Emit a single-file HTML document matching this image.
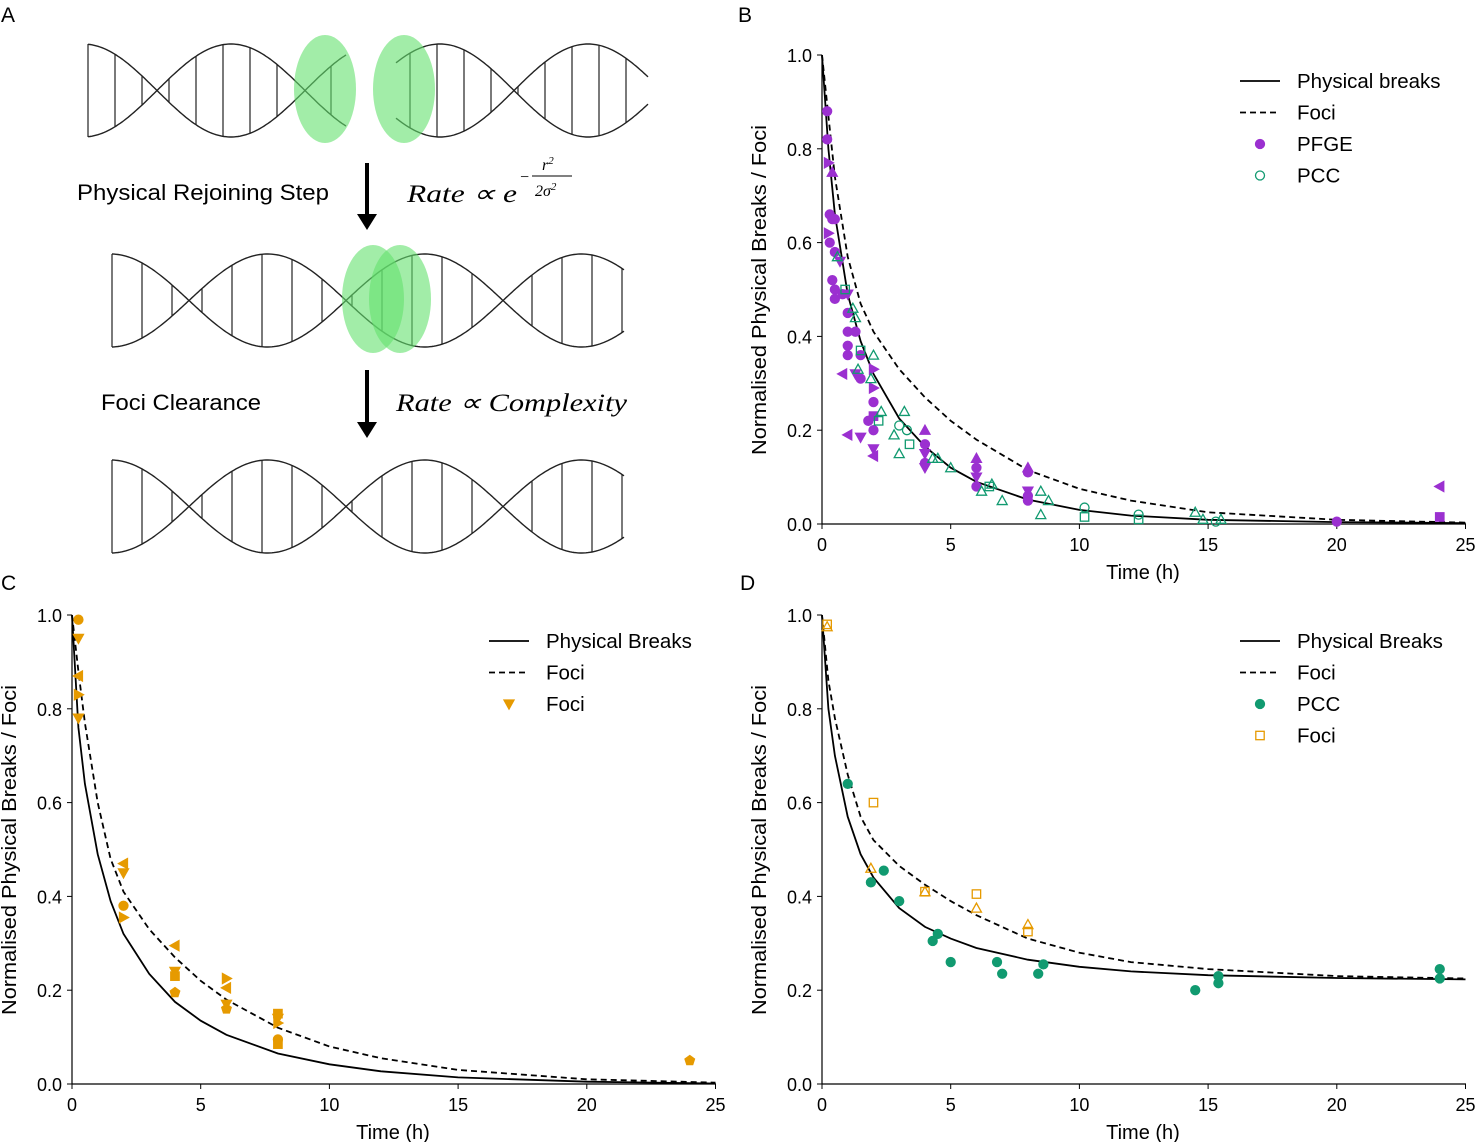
<!DOCTYPE html>
<html><head><meta charset="utf-8"><style>
body{margin:0;background:#fff}
svg{display:block;font-family:"Liberation Sans","DejaVu Sans",sans-serif}
</style></head><body>
<svg id="fig" width="1477" height="1142" viewBox="0 0 1477 1142">
<g id="panelA"></g>
<text x="1" y="22" font-size="21">A</text>
<text x="738" y="22" font-size="21">B</text>
<text x="1" y="590" font-size="21">C</text>
<text x="740" y="590" font-size="21">D</text>
<text x="77" y="200" font-size="22" textLength="252" lengthAdjust="spacingAndGlyphs">Physical Rejoining Step</text>
<text x="101" y="410" font-size="22" textLength="160" lengthAdjust="spacingAndGlyphs">Foci Clearance</text>
<g font-family="'Liberation Serif',serif" font-style="italic" font-size="25">
<text x="407" y="202" textLength="110" lengthAdjust="spacingAndGlyphs">Rate ∝ e</text>
<text x="519" y="182" font-size="16">−</text>
<text x="542" y="170" font-size="16">r<tspan font-size="11" dy="-6">2</tspan></text>
<line x1="532" y1="176" x2="572" y2="176" stroke="#000" stroke-width="1"/>
<text x="535" y="196" font-size="16">2σ<tspan font-size="11" dy="-6">2</tspan></text>
</g>
<text x="396" y="411" font-family="'Liberation Serif',serif" font-style="italic" font-size="25" textLength="231" lengthAdjust="spacingAndGlyphs">Rate ∝ Complexity</text>
<g id="charts"></g>
</svg>
<script>
const NS="http://www.w3.org/2000/svg";
function mk(tag,attrs,parent){const e=document.createElementNS(NS,tag);for(const k in attrs)e.setAttribute(k,attrs[k]);parent.appendChild(e);return e;}
const A=document.getElementById('panelA');
function helix(x0,x1,yTop,yBot,cross,half,rungStart,rungStep,name){
  const g=mk('g',{},A);
  
  
  const c=(yTop+yBot)/2,amp=(yBot-yTop)/2;
  let p1='',p2='';
  for(let x=x0;x<=x1;x+=2){const v=Math.sin(Math.PI*(x-cross)/half);
    p1+=(p1?'L':'M')+x+','+(c+amp*v).toFixed(1);p2+=(p2?'L':'M')+x+','+(c-amp*v).toFixed(1);}
  mk('path',{d:p1,fill:'none',stroke:'#222','stroke-width':1.4},g);
  mk('path',{d:p2,fill:'none',stroke:'#222','stroke-width':1.4},g);
  for(let x=rungStart;x<=x1;x+=rungStep){const v=Math.sin(Math.PI*(x-cross)/half);
    if(Math.abs(v)<0.08)continue;mk('line',{x1:x,x2:x,y1:c-amp*v,y2:c+amp*v,stroke:'#222','stroke-width':1.2},g);}
}
helix(88,347,44,137,157,148,115,27,'dna-top-left');
helix(396,648,44,137,514,148,410,27,'dna-top-right');
helix(112,625,254,347,189,157,142,30,'dna-middle');
helix(112,625,460,553,189,157,142,30,'dna-bottom');
[[88,44,137],[112,254,347],[112,460,553]].forEach(a=>mk('line',{x1:a[0],x2:a[0],y1:a[1],y2:a[2],stroke:'#222','stroke-width':1.2},A));
function ell(cx,cy,n){const e=mk('ellipse',{cx:cx,cy:cy,rx:31,ry:54,fill:'rgba(100,225,110,0.6)'},A);
}
ell(325,89,'break-focus-left');ell(404,89,'break-focus-right');ell(373,299,'focus-joined-1');ell(400,299,'focus-joined-2');
function arrow(x,y0,y1,n){const g=mk('g',{},A);
mk('line',{x1:x,x2:x,y1:y0,y2:y1-14,stroke:'#000','stroke-width':4},g);
mk('polygon',{points:`${x-10},${y1-16} ${x+10},${y1-16} ${x},${y1}`,fill:'#000'},g);}
arrow(367,163,230,'arrow-rejoining');arrow(367,370,438,'arrow-clearance');

const curveT=[0,0.25,0.5,1,1.5,2,3,4,5,6,8,10,12,15,20,25];
const bSolid=[1,0.8,0.66,0.49,0.39,0.32,0.225,0.165,0.12,0.09,0.052,0.03,0.018,0.009,0.004,0.002];
const bDash=[1,0.87,0.74,0.57,0.47,0.41,0.33,0.27,0.22,0.18,0.115,0.075,0.05,0.025,0.009,0.003];
const cSolid=[1,0.76,0.64,0.49,0.39,0.32,0.235,0.175,0.135,0.105,0.065,0.042,0.027,0.014,0.005,0.001];
const cDash=[1,0.88,0.77,0.6,0.48,0.41,0.33,0.27,0.22,0.18,0.12,0.08,0.055,0.03,0.01,0.003];
const dSolid=[1,0.8,0.7,0.57,0.49,0.44,0.375,0.335,0.31,0.29,0.265,0.25,0.24,0.232,0.226,0.223];
const dDash=[1,0.86,0.78,0.66,0.57,0.52,0.465,0.425,0.39,0.36,0.31,0.28,0.26,0.245,0.23,0.225];
const bPfgeT=[0.2,0.2,0.25,0.4,0.3,0.4,0.5,0.25,0.3,0.5,0.7,0.4,0.5,0.5,0.8,1,1,1,1.3,1,1,1.5,0.8,1.3,1.5,2,2,2,2,1.8,1,1.5,2,2,2,4,4,4,4,4,6,6,6,6,8,8,8,8,8,20,24,24];
const bPfgeV=[0.88,0.82,0.77,0.75,0.66,0.65,0.65,0.62,0.6,0.58,0.56,0.52,0.5,0.48,0.49,0.49,0.45,0.41,0.41,0.38,0.36,0.36,0.32,0.32,0.31,0.33,0.29,0.26,0.23,0.22,0.19,0.185,0.2,0.16,0.145,0.2,0.17,0.15,0.13,0.12,0.14,0.12,0.1,0.08,0.12,0.11,0.07,0.06,0.05,0.005,0.08,0.015];
const bPfgeM=['o','o','>','^','o','o','o','>','o','o','v','o','o','o','o','v','o','o','o','o','o','o','<','v','o','>','>','o','s','o','<','v','o','v','<','^','o','v','o','v','^','o','v','o','^','o','v','o','o','o','<','s'];
const bPccT=[0.6,0.9,1.2,1.3,1.5,1.4,2,1.9,2.2,2.3,2.8,3,3,3.2,3.3,3.4,4.3,4.5,5,6.2,6.5,6.6,7,8.5,8.8,8.5,10.2,10.2,12.3,12.3,14.5,14.8,15.3,15.5];
const bPccV=[0.57,0.5,0.46,0.44,0.37,0.33,0.36,0.31,0.22,0.24,0.19,0.21,0.15,0.24,0.2,0.17,0.14,0.14,0.12,0.07,0.08,0.085,0.05,0.07,0.05,0.02,0.035,0.015,0.02,0.01,0.025,0.01,0.005,0.01];
const bPccM=['^','s','^','^','s','^','^','^','s','^','^','o','^','^','o','s','^','^','^','^','s','^','^','^','^','^','o','s','o','s','^','^','o','^'];
const cFociT=[0.25,0.25,0.25,0.25,0.25,2,2,2,2,4,4,4,4,6,6,6,6,8,8,8,8,8,24];
const cFociV=[0.99,0.95,0.87,0.83,0.78,0.47,0.45,0.38,0.355,0.295,0.24,0.23,0.195,0.225,0.205,0.17,0.16,0.15,0.14,0.13,0.095,0.085,0.05];
const cFociM=['o','v','<','>','v','<','v','o','>','<','v','s','p','>','<','v','p','s','v','>','o','s','p'];
const dPccT=[1,1.9,2.4,3,4.3,4.5,5,6.8,7,8.4,8.6,14.5,15.4,15.4,24,24];
const dPccV=[0.64,0.43,0.455,0.39,0.305,0.32,0.26,0.26,0.235,0.235,0.255,0.2,0.215,0.23,0.245,0.225];
const dFociT=[0.2,2,4,6,8,0.2,1.9,4,6,8];
const dFociV=[0.98,0.6,0.41,0.405,0.325,0.975,0.46,0.41,0.375,0.34];
const dFociM=['s','s','s','s','s','^','^','^','^','^'];
const xTicks=[0,5,10,15,20,25];
const yTicks=[0,0.2,0.4,0.6,0.8,1.0];

const C=document.getElementById('charts');
const PURPLE='#9b30d0',GREEN='#119a70',ORANGE='#e69a00';
function marker(g,t,x,y,col,fill,n){
  const r=5,f=fill?col:'none',sw=1.3;let e;
  if(t==='o')e=mk('circle',{cx:x,cy:y,r:4.5,fill:f,stroke:col,'stroke-width':sw},g);
  else if(t==='s')e=mk('rect',{x:x-4.2,y:y-4.2,width:8.4,height:8.4,fill:f,stroke:col,'stroke-width':sw},g);
  else{let pts;
    if(t==='^')pts=[[0,-r],[r,r*0.8],[-r,r*0.8]];
    else if(t==='v')pts=[[0,r],[r,-r*0.8],[-r,-r*0.8]];
    else if(t==='<')pts=[[-r,0],[r*0.8,-r],[r*0.8,r]];
    else if(t==='>')pts=[[r,0],[-r*0.8,-r],[-r*0.8,r]];
    else pts=[0,1,2,3,4].map(i=>[r*Math.sin(i*1.2566),-r*Math.cos(i*1.2566)]);
    e=mk('polygon',{points:pts.map(p=>(x+p[0])+','+(y+p[1])).join(' '),fill:f,stroke:col,'stroke-width':sw},g);}
  
  
}
function chart(ox,oy,name){
  const g=mk('g',{},C);
  
  
  const sx=t=>ox+t*25.74, sy=v=>oy-v*469;
  mk('line',{x1:ox,x2:ox+644,y1:oy,y2:oy,stroke:'#000','stroke-width':1.2},g);
  mk('line',{x1:ox,x2:ox,y1:oy,y2:oy-469,stroke:'#000','stroke-width':1.2},g);
  xTicks.forEach(t=>{mk('line',{x1:sx(t),x2:sx(t),y1:oy,y2:oy+5,stroke:'#000'},g);
    const tx=mk('text',{x:sx(t),y:oy+27,'font-size':18,'text-anchor':'middle'},g);tx.textContent=t;
    
    });
  yTicks.forEach(v=>{mk('line',{x1:ox-5,x2:ox,y1:sy(v),y2:sy(v),stroke:'#000'},g);
    const tx=mk('text',{x:ox-10,y:sy(v)+7,'font-size':18,'text-anchor':'end'},g);tx.textContent=v.toFixed(1);
    
    });
  const xl=mk('text',{x:ox+321,y:oy+55,'font-size':20,'text-anchor':'middle'},g);xl.textContent='Time (h)';
  
  
  const yl=mk('text',{x:0,y:0,'font-size':20,'text-anchor':'middle',textLength:330,lengthAdjust:'spacingAndGlyphs',transform:`translate(${ox-56},${oy-234}) rotate(-90)`},g);
  yl.textContent='Normalised Physical Breaks / Foci';
  
  
  return {g,sx,sy};
}
function line(ch,T,V,dash,n){
  const d=T.map((t,i)=>(i?'L':'M')+ch.sx(t).toFixed(1)+','+ch.sy(V[i]).toFixed(1)).join('');
  const p=mk('path',{d:d,fill:'none',stroke:'#000','stroke-width':1.8,'stroke-dasharray':dash?'6,4':'none'},ch.g);
  
  
}
function scatter(ch,T,V,M,col,fill,n){T.forEach((t,i)=>marker(ch.g,M?M[i]:'o',ch.sx(t),ch.sy(V[i]),col,fill,n));}
function legend(ch,x,y0,items){
  items.forEach((it,i)=>{const y=y0+i*31.5;
    if(it.type==='line'){const l=mk('line',{x1:x,x2:x+40,y1:y,y2:y,stroke:'#000','stroke-width':1.8,'stroke-dasharray':it.dash?'6,4':'none'},ch.g);
      
      }
    else marker(ch.g,it.m,x+20,y,it.col,it.fill,'legend-swatch');
    const t=mk('text',{x:x+57,y:y+7,'font-size':20.5},ch.g);t.textContent=it.label;
    
    });
}
const B=chart(822,524,'panel-b-chart');
line(B,curveT,bSolid,false,'physical-breaks-curve');line(B,curveT,bDash,true,'foci-curve');
scatter(B,bPfgeT,bPfgeV,bPfgeM,PURPLE,true,'pfge-point');
scatter(B,bPccT,bPccV,bPccM,GREEN,false,'pcc-point');
legend(B,1240,81,[{type:'line',label:'Physical breaks'},{type:'line',dash:1,label:'Foci'},{m:'o',col:PURPLE,fill:1,label:'PFGE'},{m:'o',col:GREEN,fill:0,label:'PCC'}]);
const Cc=chart(72,1084,'panel-c-chart');
line(Cc,curveT,cSolid,false,'physical-breaks-curve');line(Cc,curveT,cDash,true,'foci-curve');
scatter(Cc,cFociT,cFociV,cFociM,ORANGE,true,'foci-point');
legend(Cc,489,641,[{type:'line',label:'Physical Breaks'},{type:'line',dash:1,label:'Foci'},{m:'v',col:ORANGE,fill:1,label:'Foci'}]);
const D=chart(822,1084,'panel-d-chart');
line(D,curveT,dSolid,false,'physical-breaks-curve');line(D,curveT,dDash,true,'foci-curve');
scatter(D,dPccT,dPccV,null,GREEN,true,'pcc-point');
scatter(D,dFociT,dFociV,dFociM,ORANGE,false,'foci-point');
legend(D,1240,641,[{type:'line',label:'Physical Breaks'},{type:'line',dash:1,label:'Foci'},{m:'o',col:GREEN,fill:1,label:'PCC'},{m:'s',col:ORANGE,fill:0,label:'Foci'}]);
</script>
</body></html>
